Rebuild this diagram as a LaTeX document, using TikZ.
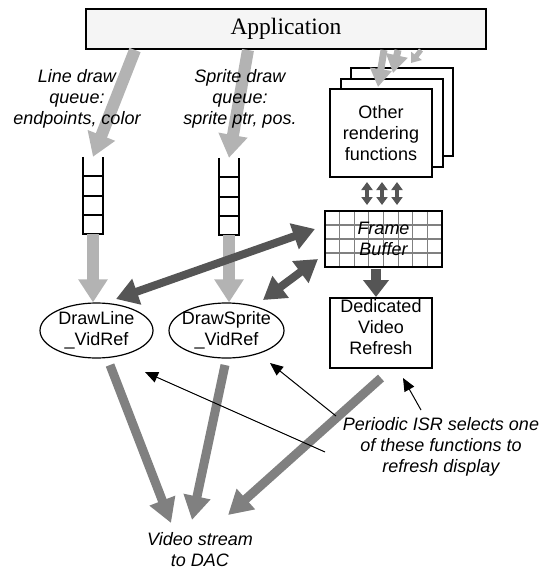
\documentclass[tikz,border=0pt]{standalone}
\usepackage{fontspec}
\setmainfont{Liberation Sans}
\newfontfamily\serifface{Liberation Serif}
\usetikzlibrary{arrows.meta,shapes.geometric,calc}
\definecolor{feedgray}{HTML}{B3B3B3}
\definecolor{busgray}{HTML}{555555}
\definecolor{streamgray}{HTML}{808080}
\definecolor{gridgray}{HTML}{808080}
\definecolor{appfill}{HTML}{F5F5F5}
\begin{document}
\begin{tikzpicture}[x=1pt,y=-1pt,
  txt/.style={align=center,inner sep=0pt,font=\fontsize{18}{21}\selectfont},
  itxt/.style={txt,font=\fontsize{18}{21}\selectfont\itshape},
  appbox/.style={draw,line width=2pt,fill=appfill,minimum width=400,minimum height=40,
    inner sep=0pt,font=\serifface\fontsize{23.5}{26}\selectfont},
  stackbox/.style={txt,draw,line width=2pt,fill=white,minimum width=102,minimum height=88},
  queuebox/.style={inner sep=0pt,minimum width=20,minimum height=77},
  ladder/.style={line width=2pt},
  ellip/.style={ellipse,draw,line width=1.2pt,fill=white,inner sep=0pt,minimum width=113,minimum height=55},
  dvrbox/.style={draw,line width=2pt,fill=white,inner sep=0pt,minimum width=102,minimum height=70},
  gridline/.style={draw=gridgray,line width=1.2pt},
  fbbox/.style={itxt,draw,line width=2pt,fill=white,minimum width=117,minimum height=56,
    path picture={
      \foreach \i in {1,...,7}
        \draw[gridline] ($(path picture bounding box.north west)!\i/8!(path picture bounding box.north east)$)
          -- ($(path picture bounding box.south west)!\i/8!(path picture bounding box.south east)$);
      \foreach \j in {1,2,3}
        \draw[gridline] ($(path picture bounding box.north west)!\j/4!(path picture bounding box.south west)$)
          -- ($(path picture bounding box.north east)!\j/4!(path picture bounding box.south east)$);
    }},
  feed/.style={draw=feedgray,line width=12pt,arrows={-Triangle[length=23pt,width=28pt]}},
  feedsmall/.style={draw=feedgray,line width=7pt,arrows={-Triangle[length=18pt,width=21pt]}},
  bus/.style={draw=busgray,line width=8pt,arrows={Triangle[length=22pt,width=26pt]-Triangle[length=22pt,width=26pt]}},
  smallbus/.style={draw=busgray,line width=4pt,arrows={Triangle[length=8pt,width=11pt]-Triangle[length=8pt,width=11pt]}},
  drop/.style={draw=busgray,line width=10pt,arrows={-Triangle[length=17pt,width=25pt]}},
  stream/.style={draw=streamgray,line width=9pt,arrows={-Triangle[length=24pt,width=26pt]}},
  pointer/.style={draw=black,line width=1pt,arrows={-Triangle[length=13pt,width=11pt]}}
]
\useasboundingbox (0,0) rectangle (542,571);

% application
\node[appbox] (app) at (286,29) {Application};

% the two queues, open at the top
\node[queuebox] (q1) at (93,195.5) {};
\node[queuebox] (q2) at (229,196.5) {};
\foreach \q in {q1,q2} {
  \draw[ladder] (\q.north west) -- (\q.south west) -- (\q.south east) -- (\q.north east);
  \foreach \k in {1,2,3}
    \draw[ladder] ($(\q.north west)!\k/4!(\q.south west)$) -- ($(\q.north east)!\k/4!(\q.south east)$);
}

% stack of other rendering functions
\node[stackbox] (orf3) at (402,112) {};
\node[stackbox] (orf2) at (391.5,122.5) {};
\node[stackbox] (orf) at (381,133) {Other\\rendering\\functions};

% frame buffer and dedicated refresh
\node[fbbox] (fb) at (383.5,239) {Frame\\Buffer};
\node[dvrbox,label={[txt,yshift=5.5pt]center:Dedicated\\Video\\Refresh}] (dvr) at (381,333) {};

% video refresh routines
\node[ellip,label={[txt]center:DrawLine\\\_VidRef}] (dl) at (96.5,330.5) {};
\node[ellip,minimum width=115,label={[txt]center:DrawSprite\\\_VidRef}] (ds) at (226.5,330.5) {};

% connector end points
\coordinate (lqin) at (135,50);
\coordinate (sqin) at (248,50);
\coordinate (oin1) at (384,50);
\coordinate (oin2) at (398,50);
\coordinate (oin3) at (421,50);
\coordinate (oend1) at (378,87);
\coordinate (oend2) at (393,73);
\coordinate (oend3) at (411,63);
\coordinate (dlbus) at (116,299);
\coordinate (fbbusA) at (315,229);
\coordinate (dsbus) at (263,300);
\coordinate (fbbusB) at (318,259);
\coordinate (fbout) at (376,269);
\coordinate (dvrin) at (376,297);
\coordinate (dlout) at (110,365);
\coordinate (dsout) at (225,365);
\coordinate (dvrout) at (381,378);
\coordinate (dacA) at (171,523);
\coordinate (dacB) at (192,520);
\coordinate (dacC) at (228,515);
\coordinate (isrA) at (325,452);
\coordinate (isrB) at (336,416);
\coordinate (isrC) at (421,410);
\coordinate (ptrA) at (145,372);
\coordinate (ptrB) at (270,363);
\coordinate (ptrC) at (403,378);

% queue feeds
\draw[feed] (lqin) -- (q1.north);
\draw[feed] (sqin) -- (q2.north);
\draw[feed] (q1.south) -- (q1.south |- dl.north);
\draw[feed] (q2.south) -- (q2.south |- ds.north);

% calls into the other rendering functions
\draw[feedsmall] (oin1) -- (oend1);
\draw[feedsmall] (oin2) -- (oend2);
\draw[feedsmall,line width=5pt,arrows={-Triangle[length=9pt,width=13pt]}] (oin3) -- (oend3);

% frame buffer traffic
\foreach \dx in {-14,1,16}
  \draw[smallbus] ($(orf.south)+(\dx,4)$) -- ($(orf.south |- fb.north)+(\dx,-5)$);
\draw[bus] (dlbus) -- (fbbusA);
\draw[bus] (dsbus) -- (fbbusB);
\draw[drop] (fbout) -- (dvrin);

% output to the DAC
\draw[stream] (dlout) -- (dacA);
\draw[stream] (dsout) -- (dacB);
\draw[stream] (dvrout) -- (dacC);

% ISR pointers
\draw[pointer] (isrA) -- (ptrA);
\draw[pointer] (isrB) -- (ptrB);
\draw[pointer] (isrC) -- (ptrC);

% captions, set over the arrows
\node[itxt] (lqtext) at (77,98.5) {Line draw\\queue:\\endpoints, color};
\node[itxt] (sqtext) at (240,98.5) {Sprite draw\\queue:\\sprite ptr, pos.};
\node[itxt] (isr) at (441,446.5) {Periodic ISR selects one\\of these functions to\\refresh display};
\node[itxt] (dac) at (200,550) {Video stream\\to DAC};
\end{tikzpicture}
\end{document}
